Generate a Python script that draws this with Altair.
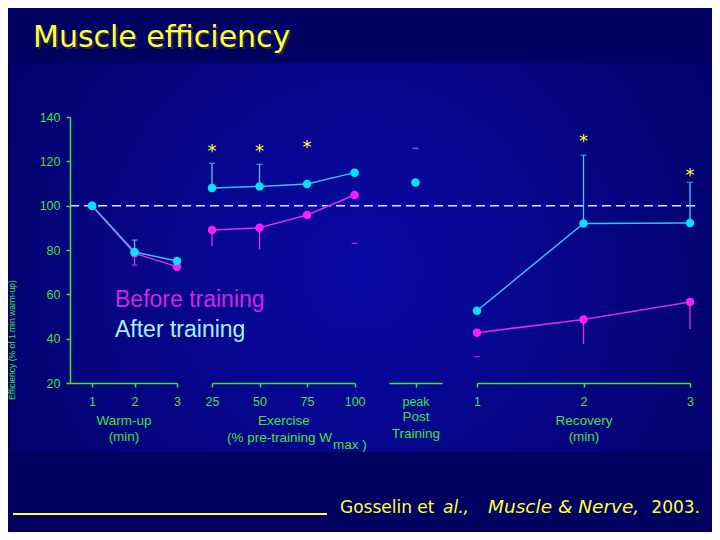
import altair as alt
import pandas as pd

# ---------------- text ----------------
TITLE = "Muscle efficiency"
CITE = ["Gosselin et", "al.,", "Muscle & Nerve,", "2003."]
LEGEND = ["Before training", "After training"]
YTITLE = "Efficiency (% of 1 min warm-up)"
EX_SUB = ["(% pre-training W", "max )"]

# ---------------- data ----------------
y_ticks = [20, 40, 60, 80, 100, 120, 140]
ref_level = [100]

warm_x = [1, 2, 3]
warm_before = [100, 78.5, 72.5]
warm_after = [100, 79.1, 75.0]
warm_before_err = [None, 73.2, None]
warm_after_err = [None, 84.5, None]
warm_before_kind = ["", "T", ""]      # T = stem + cap, I = stem only, C = cap only
warm_after_kind = ["", "T", ""]

ex_x = [25, 50, 75, 100]
ex_before = [89.0, 90.0, 95.8, 104.8]
ex_after = [108.0, 108.7, 109.8, 114.9]
ex_before_err = [81.8, 80.3, None, 83.0]
ex_after_err = [119.1, 118.7, None, None]
ex_before_kind = ["I", "I", "", "C"]
ex_after_kind = ["T", "T", "", ""]
ex_stars = [126.6, 126.6, 128.4, None]

peak_x = ["peak"]
peak_after = [110.4]
peak_after_err = [125.9]
peak_after_kind = ["C"]

rec_x = [1, 2, 3]
rec_before = [42.7, 48.6, 56.5]
rec_after = [52.6, 92.0, 92.2]
rec_before_err = [31.9, 37.6, 44.4]
rec_after_err = [None, 122.7, 110.5]
rec_before_kind = ["C", "I", "I"]
rec_after_kind = ["", "T", "T"]
rec_stars = [None, 131.0, 115.8]

# ---------------- style ----------------
W, H = 620, 266
GREEN = "#44e044"
FONT = "Liberation Sans, Arial, sans-serif"
COMIC = "DejaVu Sans, sans-serif"
YELLOW = "#ffff3a"
MAG_LINE, MAG_PT, MAG_BAR = "#d82ee6", "#ff1cff", "#e030e8"
CY_LINE, CY_PT, CY_BAR = "#44b8f2", "#00e4ff", "#55c4f4"

yscale = alt.Scale(domain=[20, 140], nice=False, zero=False)
yaxis = alt.Axis(values=y_ticks, title=None, grid=False, domainColor=GREEN,
                 domainWidth=1.5, tickColor=GREEN, tickWidth=1.5, tickSize=4,
                 labelColor=GREEN, labelFont=FONT, labelFontSize=12.5,
                 labelPadding=6, zindex=1)
Y = alt.Y("v:Q", scale=yscale, axis=yaxis)


def xaxis(values, title, title_y, **kw):
    return alt.Axis(values=values, orient="bottom", title=title, titleY=title_y,
                    titleBaseline="alphabetic", titleLineHeight=16.5,
                    titleColor=GREEN, titleFont=FONT, titleFontSize=13.5,
                    titleFontWeight="normal", grid=False, domainColor=GREEN,
                    domainWidth=1.5, tickColor=GREEN, tickWidth=1.5, tickSize=4,
                    labelColor=GREEN, labelFont=FONT, labelFontSize=12.5,
                    labelPadding=8.5, labelFlush=False, labelOverlap=False,
                    labelAngle=0, zindex=1, **kw)


def seg_df(xs, series):
    rows = []
    for s, vals, errs, kinds in series:
        for xv, v, e, k in zip(xs, vals, errs, kinds):
            rows.append({"x": xv, "v": v, "err": e, "kind": k, "s": s})
    return pd.DataFrame(rows)


def segment(xs, series, stars, xtype, xscale, xax):
    df = seg_df(xs, series)
    X = alt.X(f"x:{xtype}", scale=xscale, axis=xax)
    layers = []
    colors = {"before": (MAG_LINE, MAG_PT, MAG_BAR), "after": (CY_LINE, CY_PT, CY_BAR)}
    for s in ("before", "after"):
        d = df[df["s"] == s]
        if d.empty:
            continue
        line_c, pt_c, bar_c = colors[s]
        base = alt.Chart(d).encode(x=X, y=Y)
        stem = base.transform_filter("datum.kind == 'T' || datum.kind == 'I'").mark_rule(
            color=bar_c, strokeWidth=1.3).encode(y2="err:Q")
        cap = base.transform_filter("datum.kind == 'T' || datum.kind == 'C'").mark_tick(
            orient="horizontal", size=6, thickness=1.3, color=bar_c).encode(
            y=alt.Y("err:Q", scale=yscale, axis=yaxis))
        line = base.mark_line(color=line_c, strokeWidth=1.5)
        pts = base.mark_circle(size=72, color=pt_c, opacity=1)
        layers += [stem, cap, line, pts]
    if stars is not None:
        sd = pd.DataFrame({"x": xs, "v": stars}).dropna()
        layers.append(alt.Chart(sd).mark_text(text="*", font=COMIC, fontSize=18,
                                               color=YELLOW, baseline="alphabetic",
                                               dy=10).encode(x=X, y=Y))
    return alt.layer(*layers)


INT_LABEL = "toString(datum.value)"

seg_warm = segment(
    warm_x,
    [("before", warm_before, warm_before_err, warm_before_kind),
     ("after", warm_after, warm_after_err, warm_after_kind)],
    None, "Q",
    alt.Scale(domain=[0.48, 3], range=[0, 107], nice=False, zero=False),
    xaxis(warm_x, ["Warm-up", "(min)"], 41, labelExpr=INT_LABEL))

seg_ex = segment(
    ex_x,
    [("before", ex_before, ex_before_err, ex_before_kind),
     ("after", ex_after, ex_after_err, ex_after_kind)],
    ex_stars, "Q",
    alt.Scale(domain=[25, 100], range=[142, 284.6], nice=False, zero=False),
    xaxis(ex_x, "Exercise", 41, labelExpr=INT_LABEL))

seg_peak = segment(
    peak_x,
    [("after", peak_after, peak_after_err, peak_after_kind)],
    None, "O",
    alt.Scale(type="point", domain=peak_x, range=[319, 372], padding=0.5),
    xaxis(peak_x, ["Post", "Training"], 37.5))

seg_rec = segment(
    rec_x,
    [("before", rec_before, rec_before_err, rec_before_kind),
     ("after", rec_after, rec_after_err, rec_after_kind)],
    rec_stars, "Q",
    alt.Scale(domain=[1, 3], range=[407, 620], nice=False, zero=False),
    xaxis(rec_x, ["Recovery", "(min)"], 41, labelExpr=INT_LABEL))

one = pd.DataFrame({"a": [0]})

bg = alt.Chart(one).mark_rect(
    fill=alt.RadialGradient(
        gradient="radial",
        stops=[alt.GradientStop(color="#0909a6", offset=0),
               alt.GradientStop(color="#00005a", offset=1)],
        x1=0.5, y1=0.52, r1=0, x2=0.5, y2=0.52, r2=0.75)
).encode(x=alt.value(-60), x2=alt.value(642), y=alt.value(-54), y2=alt.value(335))

dash = alt.Chart(pd.DataFrame({"v": ref_level})).mark_rule(
    color="#e6e6ff", strokeDash=[9, 5], strokeWidth=1.5
).encode(y=Y, x=alt.value(0), x2=alt.value(628))


def label(text, x, y, **kw):
    return alt.Chart(pd.DataFrame({"t": [text]})).mark_text(**kw).encode(
        text="t:N", x=alt.value(x), y=alt.value(y))


leg1 = label(LEGEND[0], 45, 190.3, font=FONT, fontSize=23, color="#d424e2",
             align="left", baseline="alphabetic")
leg2 = label(LEGEND[1], 45, 219.7, font=FONT, fontSize=23, color="#a8f0ff",
             align="left", baseline="alphabetic")
exs1 = label(EX_SUB[0], 262, 325, font=FONT, fontSize=13.5, color=GREEN,
             align="right", baseline="alphabetic")
exs2 = label(EX_SUB[1], 263, 332, font=FONT, fontSize=13.5, color=GREEN,
             align="left", baseline="alphabetic")
ylab = label(YTITLE, -58, 223, font=FONT, fontSize=8.5, color=GREEN, angle=270,
             align="center", baseline="middle")
tshadow = label(TITLE, -35, -68, font=COMIC, fontSize=30, color="#262640",
                align="left", baseline="alphabetic")
title = label(TITLE, -37, -70, font=COMIC, fontSize=30, color=YELLOW,
              align="left", baseline="alphabetic")
cite_rule = alt.Chart(one).mark_rule(color=YELLOW, strokeWidth=2).encode(
    x=alt.value(-57), x2=alt.value(257), y=alt.value(397))
c1 = label(CITE[0], 270, 396, font=COMIC, fontSize=17, color=YELLOW,
           align="left", baseline="alphabetic")
c2 = label(CITE[1], 373, 396, font=COMIC, fontSize=17, color=YELLOW,
           align="left", baseline="alphabetic", fontStyle="italic")
c3 = label(CITE[2], 418, 396, font=COMIC, fontSize=18.5, color=YELLOW,
           align="left", baseline="alphabetic", fontStyle="italic")
c4 = label(CITE[3], 630, 396, font=COMIC, fontSize=17, color=YELLOW,
           align="right", baseline="alphabetic")

chart = alt.layer(
    bg, dash, seg_warm, seg_ex, seg_peak, seg_rec,
    leg1, leg2, exs1, exs2, ylab, tshadow, title, cite_rule, c1, c2, c3, c4
).resolve_scale(x="independent").resolve_axis(x="independent").properties(
    width=W, height=H,
    autosize=alt.AutoSizeParams(type="none"),
    padding={"left": 62, "top": 109, "right": 22, "bottom": 149},
    background="#000060",
).configure_view(stroke=None)

chart.save("out.html", embed_options={"renderer": "svg", "actions": False})
